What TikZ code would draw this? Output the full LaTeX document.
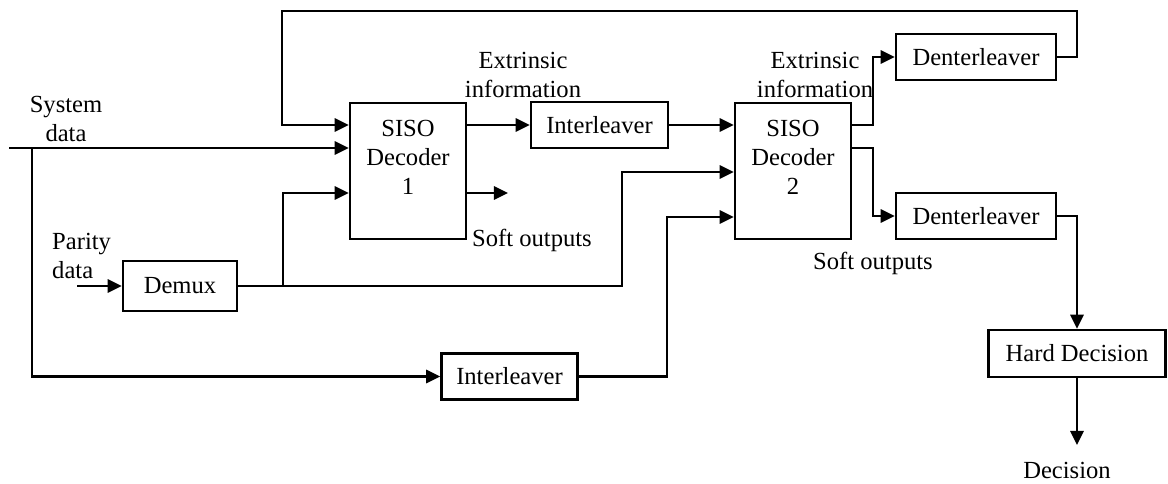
\documentclass[tikz,border=0pt]{standalone}
\usepackage{fontspec}
\setmainfont{Liberation Serif}
\usepackage{tikz}
\usetikzlibrary{arrows.meta}
\usetikzlibrary{positioning}
\tikzstyle{block}=[rectangle,draw=black,inner sep=0mm,minimum height=0.92cm,font=\fontsize{14}{16.5}\selectfont]
\tikzstyle{decoder}=[rectangle,draw=black,inner sep=0mm,minimum width=2.32cm,minimum height=2.72cm]
\tikzstyle{txt}=[inner sep=0mm,font=\fontsize{14}{16.5}\selectfont]
\tikzstyle{flow}=[-{Triangle[length=8pt,width=7.5pt]}]
\tikzset{every picture/.style={
    line width=1.4pt
  }
}

\begin{document}
\begin{tikzpicture}[x=0.02cm,y=-0.02cm]
        \useasboundingbox (0,0) rectangle (1168,483);
        \node[decoder] at (408,171) (siso1) {};
        \node[decoder] at (793,171) (siso2) {};
        \node[txt,align=center] at (408,157) (siso1txt) {SISO\\Decoder\\1};
        \node[txt,align=center] at (793,157) (siso2txt) {SISO\\Decoder\\2};
        \node[block,minimum width=2.74cm] at (599.5,125) (intl1) {Interleaver};
        \node[block,minimum width=2.72cm] at (509.5,376.5) (intl2) {Interleaver};
        \node[block,minimum width=2.28cm,minimum height=1cm] at (180,286) (demux) {Demux};
        \node[block,minimum width=3.2cm] at (976,57) (den1) {Denterleaver};
        \node[block,minimum width=3.2cm] at (976,216) (den2) {Denterleaver};
        \node[block,minimum width=3.54cm,minimum height=0.94cm] at (1077,353.5) (hard) {Hard Decision};
        \node[txt,align=center] at (66,119) (systxt) {System\\data};
        \node[txt,align=left,anchor=west] at (51,256) (partxt) {Parity\\data};
        \node[txt,align=center] at (523,75) (ext1) {Extrinsic\\information};
        \node[txt,align=center] at (815,75) (ext2) {Extrinsic\\information};
        \node[txt] at (532,240) (soft1txt) {Soft outputs};
        \node[txt] at (873,263) (soft2txt) {Soft outputs};
        \node[txt] at (1067,470) (dectxt) {Decision};
        \coordinate (sysin) at (9,148);
        \coordinate (sysbr) at (32,148);
        \coordinate (parin) at (77,286);
        \coordinate (bend1) at (283,193);
        \coordinate (bend2) at (622,172);
        \coordinate (bend3) at (667,217);
        \coordinate (bend4) at (873,125);
        \coordinate (bend5) at (873,148);
        \coordinate (soft1) at (508,193);
        \coordinate (fbtop) at (1077,11);
        \coordinate (fbleft) at (282,125);
        \coordinate (dec) at (1077,445);
        \draw[flow] (sysin) -- (sysin -| siso1.west);
        \draw[flow] (sysbr) |- (intl2.west);
        \draw[flow] (parin) -- (demux.west);
        \draw[flow] (demux.east) -| (bend2) -- (bend2 -| siso2.west);
        \draw[flow] (demux.east -| bend1) -- (bend1) -- (bend1 -| siso1.west);
        \draw[flow] (siso1.east |- intl1.west) -- (intl1.west);
        \draw[flow] (intl1.east) -- (intl1.east -| siso2.west);
        \draw[flow] (intl2.east) -| (bend3) -- (bend3 -| siso2.west);
        \draw[flow] (soft1 -| siso1.east) -- (soft1);
        \draw[flow] (bend4 -| siso2.east) -- (bend4) |- (den1.west);
        \draw[flow] (bend5 -| siso2.east) -- (bend5) |- (den2.west);
        \draw[flow] (den1.east) -| (fbtop) -| (fbleft) -- (fbleft -| siso1.west);
        \draw[flow] (den2.east) -| (hard.north);
        \draw[flow] (hard.south) -- (dec);
      \end{tikzpicture}
\end{document}
